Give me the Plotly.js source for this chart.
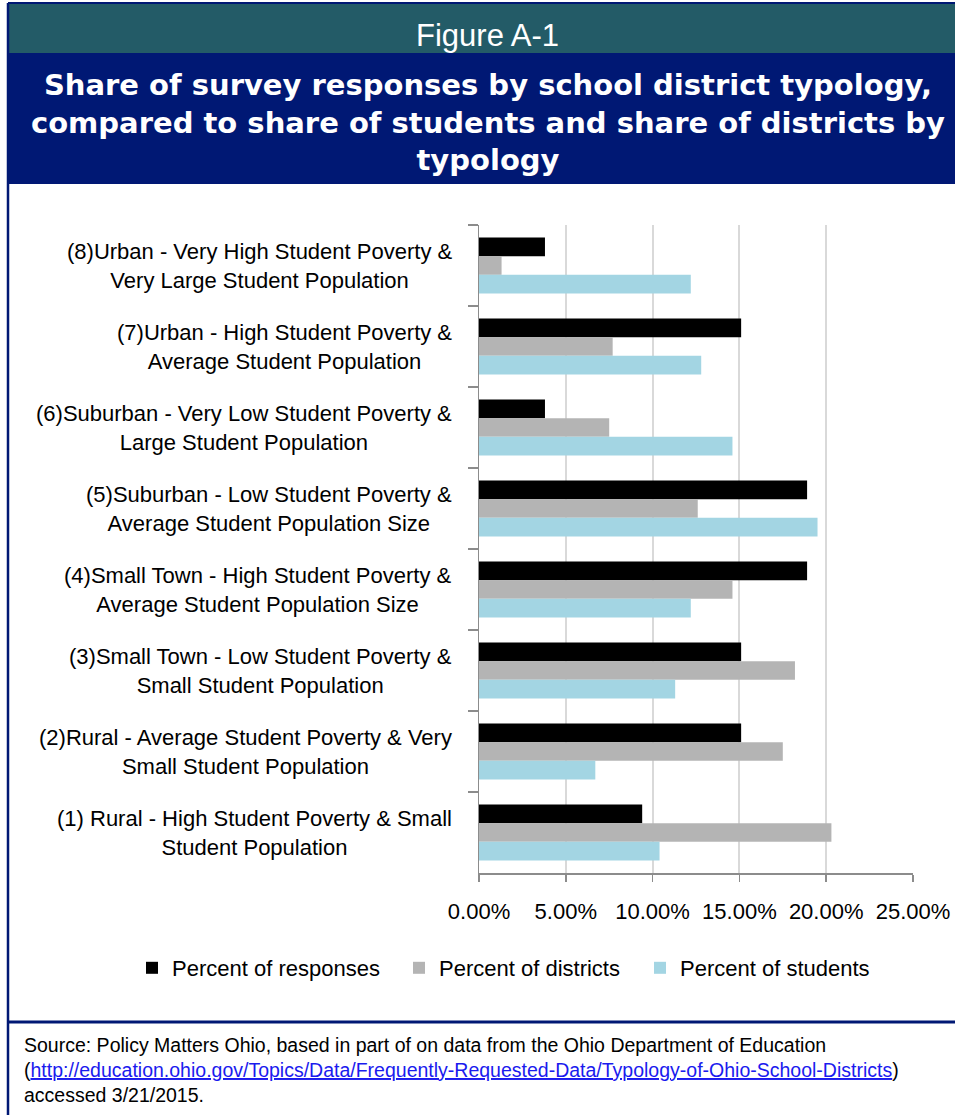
<!DOCTYPE html>
<html>
<head>
<meta charset="utf-8">
<script src="https://cdn.plot.ly/plotly-3.0.1.min.js"></script>
<style>html,body{margin:0;padding:0;background:#fff;}#chart{width:955px;height:1115px;}</style>
</head>
<body>
<div id="chart"></div>
<script>
// ---- data (top of chart to bottom) ----
var labelLine1 = [
  "(8)Urban - Very High Student Poverty &",
  "(7)Urban - High Student Poverty &",
  "(6)Suburban - Very Low Student Poverty &",
  "(5)Suburban - Low Student Poverty &",
  "(4)Small Town - High Student Poverty &",
  "(3)Small Town - Low Student Poverty &",
  "(2)Rural - Average Student Poverty & Very",
  "(1) Rural - High Student Poverty & Small"
];
var labelLine2 = [
  "Very Large Student Population",
  "Average Student Population",
  "Large Student Population",
  "Average Student Population Size",
  "Average Student Population Size",
  "Small Student Population",
  "Small Student Population",
  "Student Population"
];
var pctResponses = [3.8, 15.1, 3.8, 18.9, 18.9, 15.1, 15.1, 9.4];
var pctDistricts = [1.3, 7.7, 7.5, 12.6, 14.6, 18.2, 17.5, 20.3];
var pctStudents  = [12.2, 12.8, 14.6, 19.5, 12.2, 11.3, 6.7, 10.4];
var seriesNames = ["Percent of responses", "Percent of districts", "Percent of students"];
var xTickVals = [0, 5, 10, 15, 20, 25];
var xTickText = ["0.00%", "5.00%", "10.00%", "15.00%", "20.00%", "25.00%"];

var categories = labelLine1.map(function (l, i) { return l + " " + labelLine2[i]; });

// ---- pixel helpers for decoration placement ----
var W = 955, H = 1115, ML = 479, MR = 42, MT = 225, MB = 242;
var PW = W - ML - MR, PH = H - MT - MB;
function px(x) { return (x - ML) / PW; }
function py(y) { return (H - MB - y) / PH; }

var FONT = "Liberation Sans, Arial, sans-serif";
var colors = ["#000000", "#b4b4b4", "#a3d5e3"];
var values = [pctResponses, pctDistricts, pctStudents];
var legendWidths = [222, 196, 200];

var traces = values.map(function (v, i) {
  return {
    type: "bar", orientation: "h",
    x: v, y: categories, name: seriesNames[i],
    marker: { color: colors[i], line: { width: 0 } },
    legendwidth: legendWidths[i],
    hoverinfo: "x+name"
  };
});

var annotations = [];
categories.forEach(function (c, i) {
  annotations.push({
    xref: "paper", yref: "y", x: px(454), y: c,
    xanchor: "right", yanchor: "middle", align: "center",
    text: labelLine1[i] + "<br>" + labelLine2[i],
    showarrow: false, font: { family: FONT, size: 22, color: "#000" }
  });
});
annotations.push({
  xref: "paper", yref: "paper", x: px(487), y: py(36), xanchor: "center", yanchor: "middle",
  text: "Figure A-1", showarrow: false, font: { family: FONT, size: 31, color: "#ffffff" }
});
annotations.push({
  xref: "paper", yref: "paper", x: px(488), y: py(123), xanchor: "center", yanchor: "middle", align: "center",
  text: "<b>Share of survey responses by school district typology,<br>compared to share of students and share of districts by<br>typology</b>",
  showarrow: false, font: { family: "DejaVu Sans, Arial, sans-serif", size: 29, color: "#ffffff" }
});
var srcLines = [
  "Source: Policy Matters Ohio, based in part of on data from the Ohio Department of Education",
  "(<span style=\"color:#1a1aee;text-decoration:underline\">http://education.ohio.gov/Topics/Data/Frequently-Requested-Data/Typology-of-Ohio-School-Districts</span>)",
  "accessed 3/21/2015."
];
var srcY = [1045, 1070, 1095];
srcLines.forEach(function (t, i) {
  annotations.push({
    xref: "paper", yref: "paper", x: px(22), y: py(srcY[i]), xanchor: "left", yanchor: "middle",
    text: t, showarrow: false, font: { family: FONT, size: 19.5, color: "#000" }
  });
});

var navy = "#001874";
var shapes = [
  { type: "rect", xref: "paper", yref: "paper", x0: px(8), x1: px(960), y0: py(4), y1: py(53), fillcolor: "#235b67", line: { width: 0 } },
  { type: "rect", xref: "paper", yref: "paper", x0: px(8), x1: px(960), y0: py(53), y1: py(184), fillcolor: navy, line: { width: 0 } },
  { type: "line", xref: "paper", yref: "paper", x0: px(8), x1: px(8), y0: py(3), y1: py(1120), line: { color: navy, width: 2.5 } },
  { type: "line", xref: "paper", yref: "paper", x0: px(8), x1: px(960), y0: py(3), y1: py(3), line: { color: navy, width: 2 } },
  { type: "line", xref: "paper", yref: "paper", x0: px(8), x1: px(960), y0: py(1022), y1: py(1022), line: { color: navy, width: 3 } }
];

var layout = {
  width: W, height: H,
  margin: { l: ML, r: MR, t: MT, b: MB, pad: 0 },
  paper_bgcolor: "#ffffff", plot_bgcolor: "#ffffff",
  font: { family: FONT, size: 22, color: "#000" },
  barmode: "group", bargap: 0.31, bargroupgap: 0,
  showlegend: true,
  legend: {
    orientation: "h", x: px(132), y: py(968), xanchor: "left", yanchor: "middle",
    font: { family: FONT, size: 22, color: "#000" }, bgcolor: "rgba(0,0,0,0)"
  },
  xaxis: {
    range: [0, 25], tickvals: xTickVals, ticktext: xTickText,
    ticks: "outside", ticklen: 7, tickwidth: 1.5, tickcolor: "#8c8c8c",
    ticklabelstandoff: 11,
    showline: true, linecolor: "#8c8c8c", linewidth: 1.5,
    showgrid: true, gridcolor: "#d9d9d9", gridwidth: 2, zeroline: false,
    tickfont: { family: FONT, size: 22, color: "#000" }, fixedrange: true
  },
  yaxis: {
    type: "category", autorange: "reversed", showticklabels: false,
    ticks: "outside", tickson: "boundaries", ticklen: 10, tickwidth: 1.5, tickcolor: "#8c8c8c",
    showline: true, linecolor: "#8c8c8c", linewidth: 1.5, showgrid: false, zeroline: false, fixedrange: true
  },
  annotations: annotations,
  shapes: shapes
};

Plotly.newPlot("chart", traces, layout, { displayModeBar: false, staticPlot: true });
</script>
</body>
</html>
